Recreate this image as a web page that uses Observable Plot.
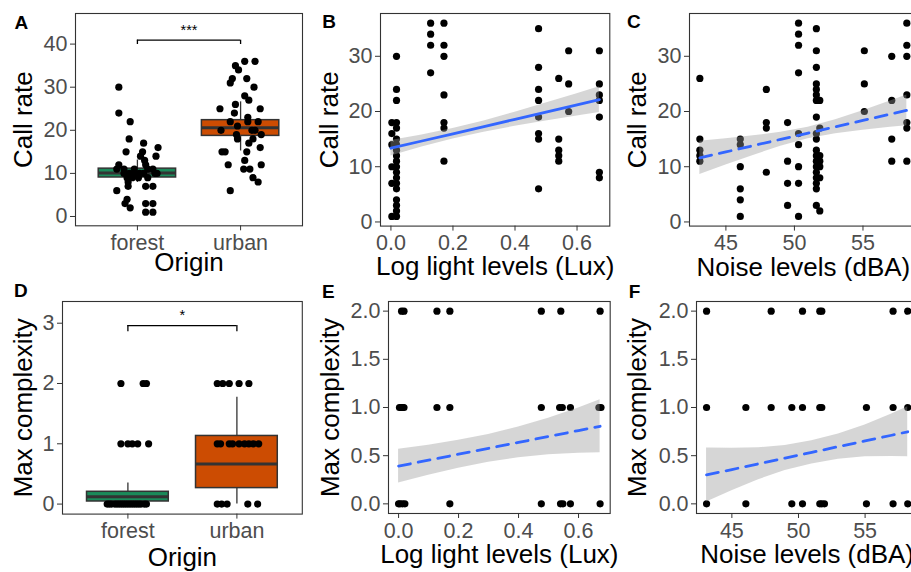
<!DOCTYPE html>
<html><head><meta charset="utf-8">
<script src="https://cdn.jsdelivr.net/npm/d3@7"></script>
<script src="https://cdn.jsdelivr.net/npm/@observablehq/plot@0.6"></script>
<style>
body{margin:0;background:#fff;}
#fig{position:relative;width:911px;height:572px;overflow:hidden;background:#fff;}
.panel{position:absolute;}
</style></head><body><div id="fig"></div>
<script>
// ---------------- DATA ----------------
const origins = ["forest", "urban"];

// Panel A: call rate by origin (jittered points)
const forestCallRate = [30,24,22,18,17,16,15,15,14,14,13,12,12,11,11,11,11,11,10,10,10,10,10,10,10,9,9,9,9,8,7,7,7,6,3,2,3,3,1,1,4];
const forestCallJitter = [-0.18,-0.18,-0.07,-0.08,0.06,0.2,-0.11,0.05,0.18,0.03,0.07,-0.18,0.08,-0.2,-0.13,-0.03,0.1,0.15,-0.13,-0.08,-0.02,0.02,0.06,0.17,0.19,-0.1,-0.05,0.01,0.1,-0.09,-0.09,0.08,0.15,-0.2,-0.12,-0.07,0.08,0.15,0.08,0.15,-0.1];
const urbanCallRate = [36,36,35,34,32,32,31,30,28,27,26,25,25,24,23,22,22,21,20,20,19,19,18,18,17,16,15,15,15,13,12,12,11,11,9,8,6,22,20];
const urbanCallJitter = [0.04,0.14,-0.05,-0.02,0.06,-0.08,-0.1,0.13,0.04,0.08,-0.05,-0.2,0.19,-0.06,0.07,-0.1,0.17,-0.03,-0.19,0.14,-0.04,0.2,-0.03,0.12,0.08,0.19,-0.18,-0.15,0.06,0.04,-0.12,0.2,0.03,0.09,0.12,0.17,-0.1,0.07,0.11];
// box statistics (forest, urban)
const callQ1 = [9.05, 18.7];
const callMedian = [10.1, 20.6];
const callQ3 = [11.1, 22.35];
const callWhiskerLow = [7.9, 15.2];
const callWhiskerHigh = [13.1, 26.6];
const callSigLabel = "***";
const callSigBar = 40.9, callSigTip = 39.9, callSigText = 43.2;

// Panel D: max complexity by origin
const forestComplexity = [2,2,2,1,1,1,1,1,0,0,0,0,0,0,0,0,0,0,0,0,0,0,0,0,0,0];
const forestComplexJitter = [-0.064,0.14,0.17,-0.064,0.0,0.04,0.09,0.19,-0.19,-0.17,-0.15,-0.12,-0.1,-0.08,-0.06,-0.04,-0.02,0.0,0.02,0.04,0.06,0.08,0.1,0.12,0.15,0.17];
const urbanComplexity = [2,2,2,2,2,1,1,1,1,1,1,1,1,1,0,0,0,0,0];
const urbanComplexJitter = [-0.18,-0.13,-0.07,0.02,0.11,-0.18,-0.15,-0.07,-0.04,0.02,0.07,0.11,0.15,0.2,-0.18,-0.14,-0.09,0.1,0.19];
const complexQ1 = [0.043, 0.265];
const complexMedian = [0.12, 0.663];
const complexQ3 = [0.204, 1.13];
const complexWhiskerLow = [0, 0];
const complexWhiskerHigh = [0.35, 1.77];
const complexSigLabel = "*";
const complexSigBar = 2.96, complexSigTip = 2.86, complexSigText = 3.13;

// Panel B: call rate vs log light
const lightLevels = [0.003, 0.018, 0.128, 0.171, 0.476, 0.541, 0.573, 0.672];
const callRateByLight = [
  [18,16,14,10,7,1],
  [30,24,22,18,17,15,14,13,12,11,10,9,8,7,6,4,3,2,1],
  [36,34,32,27],
  [36,32,30,23,18,17,11],
  [35,28,24,22,19,16,15,6],
  [26,15,13,12,11],
  [31,25,20],
  [31,25,23,22,19,9,8]
];
const fitLightX = [0, 0.1, 0.2, 0.3, 0.4, 0.5, 0.6, 0.672];
const fitCallLight = [13.35, 14.66, 15.97, 17.28, 18.59, 19.9, 21.21, 22.15];
const ciCallLightLo = [11.95, 13.56, 15.02, 16.26, 17.32, 18.28, 19.2, 19.83];
const ciCallLightHi = [14.75, 15.76, 16.92, 18.3, 19.86, 21.52, 23.22, 24.47];

// Panel C: call rate vs noise
const noiseLevels = [43.1, 46.05, 47.95, 49.5, 50.3, 51.6, 51.85, 55.1, 57.1, 58.2];
const callRateByNoise = [
  [26,15,13,12,11],
  [15,14,10,6,4,1],
  [24,18,17,9],
  [18,11,7,3],
  [36,34,32,27,16,14,10,7,1],
  [35,31,28,25,24,23,22,19,16,15,13,12,11,10,9,8,7,6,3],
  [22,17,12,11,10,8,2],
  [31,25,20],
  [30,22,15,11],
  [36,32,30,23,18,17,11]
];
const fitNoiseX = [43.1, 45, 47, 49, 51, 53, 55, 57, 58.2];
const fitCallNoise = [11.6, 12.68, 13.82, 14.96, 16.1, 17.24, 18.38, 19.52, 20.2];
const ciCallNoiseLo = [8.6, 10.3, 12.05, 13.69, 15.05, 15.97, 16.61, 17.14, 17.43];
const ciCallNoiseHi = [14.6, 15.06, 15.59, 16.23, 17.15, 18.51, 20.15, 21.9, 22.97];

// Panel E: max complexity vs log light
const lightMax2 = [0.01, 0.018, 0.128, 0.171, 0.476, 0.541, 0.672];
const lightMax1 = [0.003, 0.008, 0.013, 0.018, 0.128, 0.171, 0.476, 0.537, 0.546, 0.573, 0.668, 0.675];
const lightMax0 = [0.0, 0.005, 0.013, 0.021, 0.171, 0.476, 0.54, 0.548, 0.573, 0.672];
const fitComplexLight = [0.392, 0.453, 0.515, 0.576, 0.638, 0.699, 0.761, 0.805];
const ciComplexLightLo = [0.217, 0.298, 0.37, 0.431, 0.478, 0.509, 0.526, 0.53];
const ciComplexLightHi = [0.567, 0.608, 0.66, 0.721, 0.798, 0.889, 0.996, 1.08];

// Panel F: max complexity vs noise
const noiseMax2 = [43.1, 47.95, 50.3, 51.6, 51.75, 57.1, 58.2];
const noiseMax1 = [43.1, 46.05, 47.95, 49.5, 50.3, 51.6, 51.75, 55.1, 57.1, 58.2];
const noiseMax0 = [43.1, 46.05, 49.5, 50.3, 51.6, 51.75, 51.95, 55.1, 57.1, 58.2];
const fitComplexNoise = [0.3, 0.356, 0.416, 0.475, 0.534, 0.594, 0.653, 0.712, 0.748];
const ciComplexNoiseLo = [0.02, 0.136, 0.251, 0.345, 0.414, 0.464, 0.488, 0.492, 0.488];
const ciComplexNoiseHi = [0.58, 0.576, 0.581, 0.605, 0.654, 0.724, 0.818, 0.932, 1.008];

// ---------------- STYLE ----------------
const FONT = "'Liberation Sans', Arial, Helvetica, sans-serif";
const fillColors = ["#1b8a5a", "#cc4c02"];
const BLUE = "#3366ff";
const fig = document.getElementById("fig");

function panel({l, t, r, b, x, y, marks}) {
  const mL = 75, mR = 5, mT = 22, mB = 62;
  const W = r - l + mL + mR, H = b - t + mT + mB;
  const svg = Plot.plot({
    width: W, height: H,
    marginLeft: mL, marginRight: mR, marginTop: mT, marginBottom: mB,
    x, y,
    style: {fontFamily: FONT, fontSize: "21.5px", background: "transparent", overflow: "visible", maxWidth: "none"},
    marks
  });
  const div = document.createElement("div");
  div.className = "panel";
  div.style.left = (l - mL) + "px";
  div.style.top = (t - mT) + "px";
  div.style.width = W + "px";
  div.appendChild(svg);
  fig.appendChild(div);
}

const axX = (ticks, fmt) => Plot.axisX({ticks, tickFormat: fmt, tickSize: 5, tickPadding: 4, fontSize: 21.5, stroke: "#333", fill: "#4d4d4d", label: null});
const axY = (ticks, fmt) => Plot.axisY({ticks, tickFormat: fmt, tickSize: 5, tickPadding: 3, fontSize: 21.5, stroke: "#333", fill: "#4d4d4d", label: null});
const xTitle = (s, base) => Plot.text([s], {frameAnchor: "bottom", lineAnchor: "middle", textAnchor: "middle", dy: base - 8.3, fontSize: 26, fill: "black"});
const yTitle = (s, off) => Plot.text([s], {frameAnchor: "left", rotate: -90, lineAnchor: "middle", textAnchor: "middle", dx: off, fontSize: 26, fill: "black"});
const tag = (s, dx, dy) => Plot.text([s], {frameAnchor: "top-left", dx, dy, textAnchor: "start", lineAnchor: "middle", fontWeight: "bold", fontSize: 19, fill: "black"});
const frame = () => Plot.frame({stroke: "#333", strokeWidth: 1.1});

function boxMarks(q1, med, q3, lo, hi) {
  const stats = origins.map((o, i) => ({pos: i + 1, q1: q1[i], med: med[i], q3: q3[i], lo: lo[i], hi: hi[i], fill: fillColors[i]}));
  return [
    Plot.ruleX(stats, {x: "pos", y1: "lo", y2: "hi", stroke: "#333", strokeWidth: 1.3}),
    Plot.rect(stats, {x1: d => d.pos - 0.375, x2: d => d.pos + 0.375, y1: "q1", y2: "q3", fill: "fill", stroke: "#333", strokeWidth: 1.5}),
    Plot.ruleY(stats, {y: "med", x1: d => d.pos - 0.375, x2: d => d.pos + 0.375, stroke: "#333", strokeWidth: 3})
  ];
}
function sigMarks(bar, tip, textY, label) {
  return [
    Plot.ruleY([bar], {x1: 1, x2: 2, stroke: "black", strokeWidth: 1.3}),
    Plot.ruleX([1, 2], {y1: tip, y2: bar, stroke: "black", strokeWidth: 1.3}),
    Plot.text([label], {x: 1.5, y: textY, fontSize: 14.5, fill: "black"})
  ];
}
const jittered = (vals, jit, i) => vals.map((v, k) => ({x: i + 1 + jit[k], y: v}));
const originFmt = d => origins[d - 1];
const dot = (data) => Plot.dot(data, {x: "x", y: "y", r: 3.6, fill: "black", stroke: null});
const fitTable = (xs, fit, lo, hi) => xs.map((x, i) => ({x, fit: fit[i], lo: lo[i], hi: hi[i]}));
function smoothMarks(tbl, dashed) {
  return [
    Plot.areaY(tbl, {x: "x", y1: "lo", y2: "hi", fill: "#999", fillOpacity: 0.4}),
    Plot.line(tbl, {x: "x", y: "fit", stroke: BLUE, strokeWidth: 2.8, strokeDasharray: dashed ? "12,8" : null})
  ];
}
const intFmt = d3.format("d");
const oneDec = d3.format(".1f");

// ---------------- PANEL A ----------------
panel({
  l: 75, t: 12.7, r: 302, b: 225,
  x: {domain: [0.4, 2.6]}, y: {domain: [-2.16, 47.1]},
  marks: [
    ...boxMarks(callQ1, callMedian, callQ3, callWhiskerLow, callWhiskerHigh),
    dot(jittered(forestCallRate, forestCallJitter, 0)),
    dot(jittered(urbanCallRate, urbanCallJitter, 1)),
    ...sigMarks(callSigBar, callSigTip, callSigText, callSigLabel),
    frame(), axX([1, 2], originFmt), axY([0, 10, 20, 30, 40], intFmt),
    xTitle("Origin", 45.5), yTitle("Call rate", -52), tag("A", -61, 9.5)
  ]
});

// ---------------- PANEL B ----------------
const bData = lightLevels.flatMap((x, i) => callRateByLight[i].map(y => ({x, y})));
panel({
  l: 380, t: 12.7, r: 609.3, b: 225.3,
  x: {domain: [-0.0336, 0.7056]}, y: {domain: [-0.75, 37.75]},
  marks: [
    dot(bData),
    ...smoothMarks(fitTable(fitLightX, fitCallLight, ciCallLightLo, ciCallLightHi), false),
    frame(), axX([0, 0.2, 0.4, 0.6], oneDec), axY([0, 10, 20, 30], intFmt),
    xTitle("Log light levels (Lux)", 49.3), yTitle("Call rate", -50.5), tag("B", -58.3, 8.5)
  ]
});

// ---------------- PANEL C ----------------
const cData = noiseLevels.flatMap((x, i) => callRateByNoise[i].map(y => ({x, y})));
panel({
  l: 689.3, t: 12.7, r: 917, b: 225.3,
  x: {domain: [42.345, 58.955]}, y: {domain: [-0.75, 37.75]},
  marks: [
    dot(cData),
    ...smoothMarks(fitTable(fitNoiseX, fitCallNoise, ciCallNoiseLo, ciCallNoiseHi), true),
    frame(), axX([45, 50, 55], intFmt), axY([0, 10, 20, 30], intFmt),
    xTitle("Noise levels (dBA)", 50), yTitle("Call rate", -51.5), tag("C", -62.6, 8.2)
  ]
});

// ---------------- PANEL D ----------------
panel({
  l: 61.7, t: 300.7, r: 301.5, b: 513.3,
  x: {domain: [0.4, 2.6]}, y: {domain: [-0.166, 3.36]},
  marks: [
    ...boxMarks(complexQ1, complexMedian, complexQ3, complexWhiskerLow, complexWhiskerHigh),
    dot(jittered(forestComplexity, forestComplexJitter, 0)),
    dot(jittered(urbanComplexity, urbanComplexJitter, 1)),
    ...sigMarks(complexSigBar, complexSigTip, complexSigText, complexSigLabel),
    frame(), axX([1, 2], originFmt), axY([0, 1, 2, 3], intFmt),
    xTitle("Origin", 52), yTitle("Max complexity", -39), tag("D", -48.4, -10.1)
  ]
});

// ---------------- PANEL E ----------------
const eData = [
  ...lightMax2.map(x => ({x, y: 2})),
  ...lightMax1.map(x => ({x, y: 1})),
  ...lightMax0.map(x => ({x, y: 0}))
];
panel({
  l: 388.3, t: 300.7, r: 610, b: 512.7,
  x: {domain: [-0.0336, 0.7056]}, y: {domain: [-0.1, 2.1]},
  marks: [
    dot(eData),
    ...smoothMarks(fitTable(fitLightX, fitComplexLight, ciComplexLightLo, ciComplexLightHi), true),
    frame(), axX([0, 0.2, 0.4, 0.6], oneDec), axY([0, 0.5, 1, 1.5, 2], oneDec),
    xTitle("Log light levels (Lux)", 49.3), yTitle("Max complexity", -58), tag("E", -66.6, -9.8)
  ]
});

// ---------------- PANEL F ----------------
const fData = [
  ...noiseMax2.map(x => ({x, y: 2})),
  ...noiseMax1.map(x => ({x, y: 1})),
  ...noiseMax0.map(x => ({x, y: 0}))
];
panel({
  l: 695.7, t: 300.7, r: 917, b: 512.7,
  x: {domain: [42.345, 58.955]}, y: {domain: [-0.1, 2.1]},
  marks: [
    dot(fData),
    ...smoothMarks(fitTable(fitNoiseX, fitComplexNoise, ciComplexNoiseLo, ciComplexNoiseHi), true),
    frame(), axX([45, 50, 55], intFmt), axY([0, 0.5, 1, 1.5, 2], oneDec),
    xTitle("Noise levels (dBA)", 49.3), yTitle("Max complexity", -59), tag("F", -67.7, -9.8)
  ]
});
</script></body></html>
